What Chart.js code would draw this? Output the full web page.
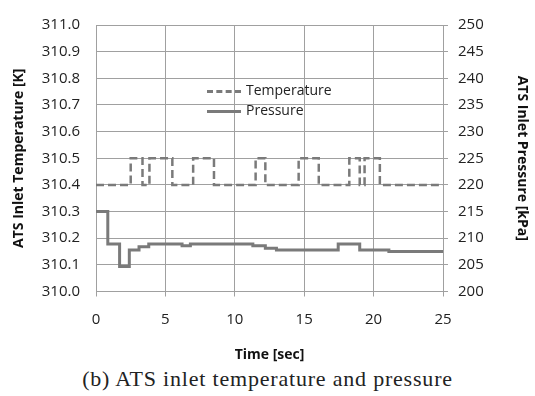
<!DOCTYPE html>
<html>
<head>
<meta charset="utf-8">
<script src="https://cdn.jsdelivr.net/npm/chart.js@4.4.1/dist/chart.umd.min.js"></script>
<style>
    body { margin: 0; background: #fff; }
    #wrap { position: relative; width: 535px; height: 396px; }
    #chartBox { position: absolute; left: 0; top: 0; width: 535px; height: 366px; }
    .legend { position: absolute; left: 207px; font: 14px "Open Sans", sans-serif; line-height: 20px; color: #222; }
    .legend span.swatch { display: inline-block; width: 34px; vertical-align: middle; margin-right: 5px; }
    .caption {
        position: absolute; left: 0; width: 535px; top: 366px; text-align: center;
        font: 22px "Liberation Serif", "DejaVu Serif", serif; letter-spacing: 0.8px; color: #222;
    }
</style>
</head>
<body>
<div id="wrap">
    <div id="chartBox"><canvas id="chart"></canvas></div>
    <div class="legend" style="top:80px"><span class="swatch" style="border-top:3px dashed #7a7a7a"></span>Temperature</div>
    <div class="legend" style="top:100px"><span class="swatch" style="border-top:3px solid #7a7a7a"></span>Pressure</div>
    <div class="caption">(b) ATS inlet temperature and pressure</div>
</div>
<script>
// time [sec] where the temperature level changes, and the level from there on
const tempTimes = [0, 2.5, 3.35, 3.85, 5.5, 7.0, 8.5, 11.5, 12.2, 14.6, 16.05, 18.25, 19.0, 19.35, 20.45, 25]
const tempValues = [310.4, 310.5, 310.4, 310.5, 310.4, 310.5, 310.4, 310.5, 310.4, 310.5, 310.4, 310.5, 310.4, 310.5, 310.4, 310.4]

// pressure [kPa] steps
const pressTimes = [0, 0.85, 1.7, 2.4, 3.1, 3.8, 6.2, 6.8, 11.3, 12.2, 13.0, 17.45, 19.0, 21.1, 25]
const pressValues = [215, 208.9, 204.7, 207.8, 208.4, 208.9, 208.6, 208.9, 208.6, 208.1, 207.8, 208.9, 207.8, 207.5, 207.4]

const gridColor = "#a0a0a0"
const lineColor = "#7a7a7a"
const tickFont = { family: "Open Sans", size: 15 }
const titleFont = { family: "Open Sans", size: 14, weight: "bold" }

const toPoints = (xs, ys) => xs.map((x, i) => ({ x: x, y: ys[i] }))

new Chart(document.getElementById("chart"), {
    type: "line",
    data: {
        datasets: [
            {
                label: "Temperature",
                data: toPoints(tempTimes, tempValues),
                yAxisID: "yT",
                stepped: "before",
                borderColor: lineColor,
                borderWidth: 2.5,
                borderDash: [8, 4],
                pointRadius: 0,
            },
            {
                label: "Pressure",
                data: toPoints(pressTimes, pressValues),
                yAxisID: "yP",
                stepped: "before",
                borderColor: lineColor,
                borderWidth: 3,
                pointRadius: 0,
            },
        ],
    },
    options: {
        responsive: true,
        maintainAspectRatio: false,
        animation: false,
        layout: { padding: { top: 17, right: 0, left: 0, bottom: 0 } },
        plugins: {
            legend: { display: false },
            tooltip: { enabled: false },
        },
        scales: {
            x: {
                type: "linear",
                min: 0,
                max: 25,
                ticks: { stepSize: 5, font: tickFont, color: "#222", padding: 14 },
                grid: { color: gridColor, tickLength: 5 },
                border: { color: gridColor },
                title: { display: true, text: "Time [sec]", font: titleFont, color: "#111", padding: { bottom: 3 } },
                afterFit: (s) => { s.height = 74.5 },
            },
            yT: {
                position: "left",
                min: 310.0,
                max: 311.0,
                ticks: { stepSize: 0.1, font: tickFont, color: "#222", padding: 16, callback: (v) => v.toFixed(1) },
                grid: { color: gridColor, drawTicks: false },
                border: { color: gridColor },
                title: { display: true, text: "ATS Inlet Temperature [K]", font: titleFont, color: "#111", padding: { top: 11, bottom: 0 } },
                afterFit: (s) => { s.width = 96 },
            },
            yP: {
                position: "right",
                min: 200,
                max: 250,
                ticks: { stepSize: 5, font: tickFont, color: "#222", padding: 10 },
                grid: { drawOnChartArea: false, color: gridColor, tickLength: 5 },
                border: { color: gridColor },
                title: { display: true, text: "ATS Inlet Pressure [kPa]", font: titleFont, color: "#111", padding: { top: 5, bottom: 0 } },
                afterFit: (s) => { s.width = 92 },
            },
        },
    },
})
</script>
</body>
</html>
